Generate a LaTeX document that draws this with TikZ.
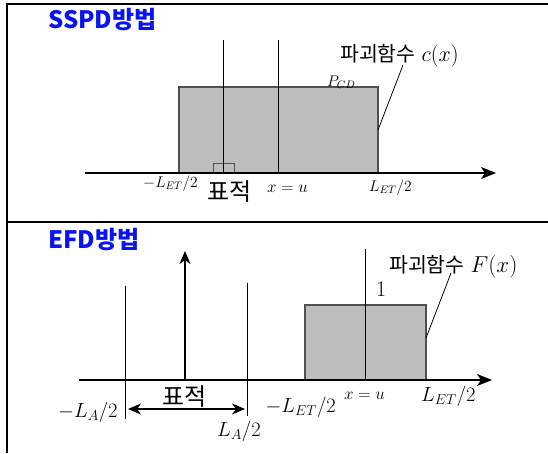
\RequirePackage{fix-cm}
\documentclass[tikz,border=0pt]{standalone}
\usepackage{fontspec}
\usetikzlibrary{arrows.meta}
\newfontfamily\kr{Noto Sans CJK KR}
\definecolor{boxgray}{RGB}{190,190,190}
\definecolor{boxedge}{RGB}{80,80,80}
\definecolor{titleblue}{RGB}{10,20,240}
\begin{document}
\begin{tikzpicture}[x=1pt,y=-1pt,
  frame/.style={line width=2.6pt, black},
  axis/.style={line width=1.4pt, -{Stealth[length=15pt,width=12pt,inset=4pt]}},
  upaxis/.style={line width=1.4pt, -{Stealth[length=13pt,width=11pt,inset=4pt]}},
  dblarrow/.style={line width=1.4pt, {Stealth[length=13pt,width=11pt,inset=4pt]}-{Stealth[length=13pt,width=11pt,inset=4pt]}},
  thinline/.style={line width=1pt},
  graybox/.style={fill=boxgray, draw=boxedge, line width=1.3pt, inner sep=0pt, outer sep=0pt, anchor=south west},
  lead/.style={line width=0.8pt},
  titletext/.style={font=\kr\bfseries\fontsize{24}{26}\selectfont, text=titleblue, inner sep=0pt, anchor=base west},
  lbl/.style={inner sep=0pt, anchor=base west},
  smallm/.style={font=\fontsize{15.5}{18}\selectfont},
  midm/.style={font=\fontsize{17}{20}\selectfont},
  bigm/.style={font=\fontsize{20.5}{24}\selectfont},
  krlbl/.style={font=\kr\fontsize{24}{26}\selectfont},
]
\useasboundingbox (0,0) rectangle (548,453);
% frame
\coordinate (fTL) at (7,4);
\coordinate (fTR) at (548,4);
\coordinate (fML) at (7,222);
\coordinate (fMR) at (548,222);
\coordinate (fBL) at (7,453);
\draw[frame] (fBL) -- (fTL) -- (fTR);
\draw[frame] (fML) -- (fMR);

% ---------- top panel ----------
\node[titletext] (t1) at (48,28) {SSPD방법};
\node[graybox, minimum width=199pt, minimum height=86pt] (box1) at (179,173) {};
\node[graybox, line width=1pt, minimum width=21pt, minimum height=10pt] (tgt) at (213,173) {};
\coordinate (v1t) at (223,40); \coordinate (v1b) at (223,173);
\coordinate (v2t) at (278,40); \coordinate (v2b) at (278,173);
\draw[thinline] (v1t) -- (v1b);
\draw[thinline] (v2t) -- (v2b);
\coordinate (a1L) at (85,173); \coordinate (a1R) at (496,173);
\draw[axis] (a1L) -- (a1R);
\node[lbl, smallm] (pcd) at (327,86) {$P_{CD}$};
\node[lbl] (c1lab) at (340,61) {{\kr\fontsize{20.5}{22}\selectfont 파괴함수}\hspace{6pt}{\fontsize{22}{26}\selectfont$c(x)$}};
\coordinate (c1end) at (403,65);
\coordinate (c1start) at (378,130);
\draw[lead] (c1start) -- (c1end);
\node[lbl, smallm] (m1) at (143,187) {$-L_{ET}/2$};
\node[lbl, krlbl] (tg1) at (207,200) {표적};
\node[lbl, midm] (xu1) at (267,192) {$x=u$};
\node[lbl, smallm] (p1) at (369,191) {$L_{ET}/2$};

% ---------- bottom panel ----------
\node[titletext] (t2) at (48,248) {EFD방법};
\node[graybox, minimum width=121pt, minimum height=75pt] (box2) at (305,380) {};
\coordinate (w1t) at (125,286); \coordinate (w1b) at (125,419);
\coordinate (w2t) at (247,283); \coordinate (w2b) at (247,416);
\draw[thinline] (w1t) -- (w1b);
\draw[thinline] (w2t) -- (w2b);
\coordinate (w3t) at (365,249); \coordinate (w3b) at (365,380);
\draw[thinline] (w3t) -- (w3b);
\coordinate (upb) at (185,380); \coordinate (upt) at (185,251);
\draw[upaxis] (upb) -- (upt);
\coordinate (a2L) at (79,380); \coordinate (a2R) at (492,380);
\draw[axis] (a2L) -- (a2R);
\coordinate (dL) at (128,409); \coordinate (dR) at (245,409);
\draw[dblarrow] (dL) -- (dR);
\node[lbl, krlbl] (tg2) at (162,405) {표적};
\node[lbl, bigm] (m2) at (58,417) {$-L_A/2$};
\node[lbl, bigm] (p2) at (217,436) {$L_A/2$};
\node[inner sep=0pt, anchor=base east, bigm] (m3) at (336,412) {$-L_{ET}/2$};
\node[lbl, midm] (xu2) at (344,399) {$x=u$};
\node[lbl, bigm] (p3) at (421,401) {$L_{ET}/2$};
\node[lbl, font=\fontsize{22}{26}\selectfont] (one) at (376,296) {$1$};
\node[lbl] (c2lab) at (389,272) {{\kr\fontsize{20.5}{22}\selectfont 파괴함수}\hspace{6pt}{\fontsize{23}{26}\selectfont$F(x)$}};
\coordinate (c2start) at (426,338);
\coordinate (c2end) at (451,273);
\draw[lead] (c2start) -- (c2end);
\end{tikzpicture}
\end{document}
